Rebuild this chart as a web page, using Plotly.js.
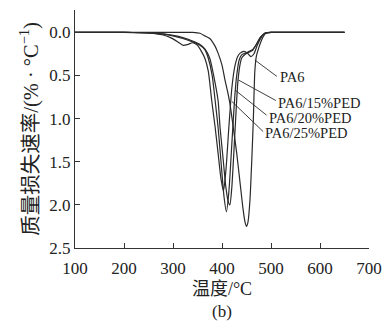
<!DOCTYPE html>
<html>
<head>
<meta charset="utf-8">
<script src="https://cdn.plot.ly/plotly-3.0.1.min.js"></script>
<style>html,body{margin:0;padding:0;background:#fff;}#chart{width:389px;height:328px;}</style>
</head>
<body>
<div id="chart"></div>
<script>
// Temperatures (°C) and mass-loss rates (%/°C)
const tPA6 = [100,200,300,340,355,365,375,385,392,400,406,412,416,423,430,437,443,447,450,453,457,461,464,467,470,475,480,485,490,500,550,600,650];
const vPA6 = [0,0,0,0,0.01,0.04,0.07,0.15,0.24,0.38,0.55,0.7,0.82,1.1,1.4,1.75,2.05,2.2,2.25,2.2,1.95,1.45,1.0,0.45,0.28,0.18,0.1,0.04,0.01,0,0,0,0];

const t15 = [100,200,240,260,280,300,320,340,355,365,375,383,392,396,402,408,413,416,420,426,432,436,440,448,455,462,470,478,485,490,500,550,600,650];
const v15 = [0,0,0.003,0.008,0.018,0.035,0.06,0.1,0.14,0.19,0.3,0.5,0.79,1.1,1.45,1.8,1.97,2.0,1.8,1.2,0.6,0.4,0.3,0.25,0.23,0.21,0.14,0.06,0.02,0.005,0,0,0,0];

const t20 = [100,200,240,260,280,300,320,340,355,365,372,380,386,392,398,404,409,414,420,426,430,435,440,448,455,462,470,478,485,490,500,550,600,650];
const v20 = [0,0,0.003,0.008,0.02,0.04,0.07,0.11,0.15,0.2,0.3,0.5,0.79,1.1,1.5,1.9,2.08,1.85,1.3,0.75,0.5,0.32,0.26,0.24,0.22,0.2,0.14,0.06,0.02,0.005,0,0,0,0];

const t25 = [100,200,240,260,280,295,310,321,330,340,350,358,365,372,379,386,392,398,403,408,414,420,426,432,437,445,452,459,465,472,478,485,490,500,550,600,650];
const v25 = [0,0,0.005,0.01,0.03,0.06,0.11,0.15,0.14,0.12,0.15,0.22,0.3,0.45,0.79,1.1,1.4,1.7,1.84,1.6,1.1,0.65,0.4,0.28,0.24,0.22,0.24,0.28,0.25,0.15,0.08,0.02,0.005,0,0,0,0];

const seriesNames = ['PA6','PA6/15%PED','PA6/20%PED','PA6/25%PED'];
const xTicks = [100,200,300,400,500,600,700];
const yTicks = [0,0.5,1,1.5,2,2.5];
const yTickText = ['0.0','0.5','1.0','1.5','2.0','2.5'];

const serif = '"Liberation Serif", "Times New Roman", "Noto Sans CJK SC", serif';
const lineStyle = {color:'#2a2a2a', width:1.2, shape:'spline', smoothing:0.6};

const data = [[tPA6,vPA6],[t15,v15],[t20,v20],[t25,v25]].map((d,i)=>({
  x:d[0], y:d[1], type:'scatter', mode:'lines', name:seriesNames[i], line:lineStyle, hoverinfo:'skip'
}));

// label positions: [text x, text y, leader start x, leader start y, leader end x, leader end y]
const labels = [
  [514,0.52, 467,0.32, 512,0.51],
  [510,0.82, 433,0.55, 510,0.79],
  [491,0.99, 427,0.67, 491,0.96],
  [484,1.17, 420,0.80, 484,1.15]
];

const annotations = labels.map((l,i)=>({
  x:l[0], y:l[1], xref:'x', yref:'y', text:seriesNames[i], showarrow:false,
  xanchor:'left', yanchor:'middle', font:{family:serif, size:14.5, color:'#222'}
}));
annotations.push({x:0.5, y:-0.265, xref:'paper', yref:'paper', yanchor:'middle', text:'(b)', showarrow:false,
  font:{family:serif, size:17, color:'#222'}});

const shapes = labels.map(l=>({type:'line', xref:'x', yref:'y', x0:l[2], y0:l[3], x1:l[4], y1:l[5],
  line:{color:'#2a2a2a', width:0.9}}));

const layout = {
  width:389, height:328,
  margin:{l:75, r:20, t:10, b:80},
  paper_bgcolor:'#fff', plot_bgcolor:'#fff',
  font:{family:serif, color:'#222'},
  showlegend:false,
  xaxis:{range:[100,700], tickvals:xTicks, ticks:'inside', ticklen:5, tickcolor:'#333',
    showline:true, linecolor:'#333', linewidth:1, showgrid:false, zeroline:false,
    ticklabelstandoff:5,
    tickfont:{family:serif, size:17, color:'#222'},
    title:{text:'温度/°C', font:{family:serif, size:18, color:'#222'}, standoff:4}},
  yaxis:{range:[2.5,-0.26], tickvals:yTicks, ticktext:yTickText, ticks:'inside', ticklen:5, tickcolor:'#333',
    showline:true, linecolor:'#333', linewidth:1, showgrid:false, zeroline:false,
    tickfont:{family:serif, size:17, color:'#222'},
    title:{text:'质量损失速率/(% · °C<sup>−1</sup>)', font:{family:serif, size:20.5, color:'#222'}, standoff:5}},
  annotations:annotations, shapes:shapes
};

Plotly.newPlot('chart', data, layout, {staticPlot:true, displayModeBar:false});
</script>
</body>
</html>
